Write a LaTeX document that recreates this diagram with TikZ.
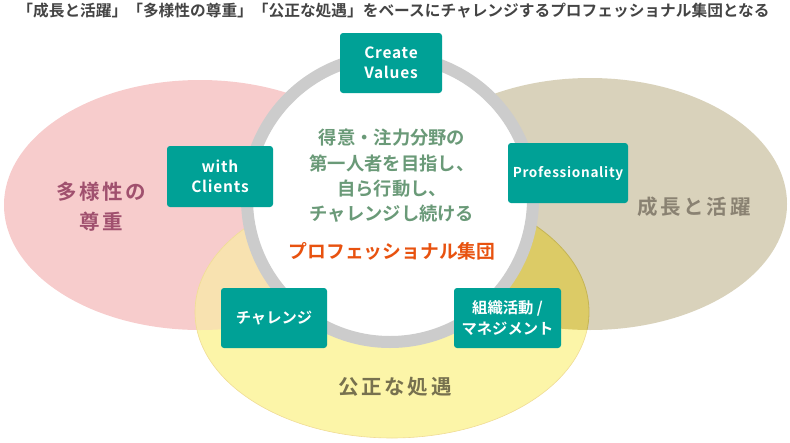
\documentclass[tikz,border=0pt]{standalone}
\usepackage{fontspec}
\setmainfont{Noto Sans CJK JP}[BoldFont={Noto Sans CJK JP Bold}]
\definecolor{pinkE}{HTML}{F7CCCC}
\definecolor{tanE}{HTML}{D9D2BB}
\definecolor{yelE}{HTML}{FCF5A8}
\definecolor{pinkyel}{HTML}{F8E2B0}
\definecolor{tanyel}{HTML}{DCCB66}
\definecolor{tanyelline}{HTML}{C4B456}
\definecolor{yelline}{HTML}{F0DC96}
\definecolor{ringC}{HTML}{CCCCCC}
\definecolor{tealC}{HTML}{00A196}
\definecolor{innerC}{HTML}{6A9A78}
\definecolor{orangeC}{HTML}{E8520F}
\definecolor{mauveC}{HTML}{A0506E}
\definecolor{brownC}{HTML}{8A8272}
\definecolor{oliveC}{HTML}{77714F}
\definecolor{titleC}{HTML}{444444}
\tikzset{
  tealbox/.style={fill=tealC, rounded corners=3pt, text=white, align=center, inner sep=0pt, minimum height=60pt},
  latinbox/.style={tealbox, font=\bfseries\fontsize{15.5}{20.5}\selectfont\addfontfeatures{LetterSpace=5}},
  jpbox/.style={tealbox, font=\bfseries\fontsize{15.3}{21}\selectfont},
  biglabel/.style={font=\bfseries\fontsize{20.5}{30}\selectfont\addfontfeatures{LetterSpace=13}, align=center},
  innertext/.style={text=innerC, font=\bfseries\fontsize{18.3}{25.4}\selectfont, align=center}
}
\begin{document}
\begin{tikzpicture}[x=1pt,y=-1pt]
\useasboundingbox (0,0) rectangle (790,442);
% ellipses
\fill[pinkE] (200,205) ellipse [x radius=196, y radius=125];
\fill[tanE] (590,204) ellipse [x radius=197, y radius=126];
\fill[yelE] (392,312) ellipse [x radius=197, y radius=126];
\begin{scope}
  \clip (200,205) ellipse [x radius=196, y radius=125];
  \fill[pinkyel] (392,312) ellipse [x radius=197, y radius=126];
\end{scope}
\begin{scope}
  \clip (590,204) ellipse [x radius=197, y radius=126];
  \fill[tanyel] (392,312) ellipse [x radius=197, y radius=126];
  \draw[tanyelline, line width=0.8pt] (392,312) ellipse [x radius=197, y radius=126];
\end{scope}
\begin{scope}[even odd rule]
  \clip (0,0) rectangle (790,442) (590,204) ellipse [x radius=197, y radius=126];
  \draw[yelline, line width=0.6pt] (392,312) ellipse [x radius=197, y radius=126];
\end{scope}
% ring
\node[circle, fill=white, draw=ringC, line width=12pt, minimum size=286pt, inner sep=0pt] (ring) at (390,199) {};
% title
\node[text=titleC, font=\bfseries\fontsize{15.7}{18}\selectfont] (title) at (393.5,10.5) {「成長と活躍」「多様性の尊重」「公正な処遇」をベースにチャレンジするプロフェッショナル集団となる};
% inner text
\node[innertext] (inner) at (392,176) {得意・注力分野の\\第一人者を目指し、\\自ら行動し、\\チャレンジし続ける};
\node[text=orangeC, font=\bfseries\fontsize{18.8}{22}\selectfont] (pro) at (392,251) {プロフェッショナル集団};
% big labels
\node[biglabel, text=mauveC] (diversity) at (101,207) {多様性の\\尊重};
\node[biglabel, text=brownC] (growth) at (694,207) {成長と活躍};
\node[biglabel, text=oliveC] (fair) at (395,387) {公正な処遇};
% teal boxes
\node[latinbox, minimum width=102pt] (create) at (391,63) {Create\\Values};
\node[latinbox, minimum width=106pt, minimum height=61pt] (clients) at (220,176.5) {with\\Clients};
\node[latinbox, minimum width=120pt, font=\bfseries\fontsize{13.6}{18}\selectfont\addfontfeatures{LetterSpace=5}] (profess) at (568,173) {Professionality};
\node[jpbox, minimum width=106pt] (challenge) at (274,318) {チャレンジ};
\node[jpbox, minimum width=107pt] (manage) at (507.5,318) {組織活動 /\\マネジメント};
\end{tikzpicture}
\end{document}
